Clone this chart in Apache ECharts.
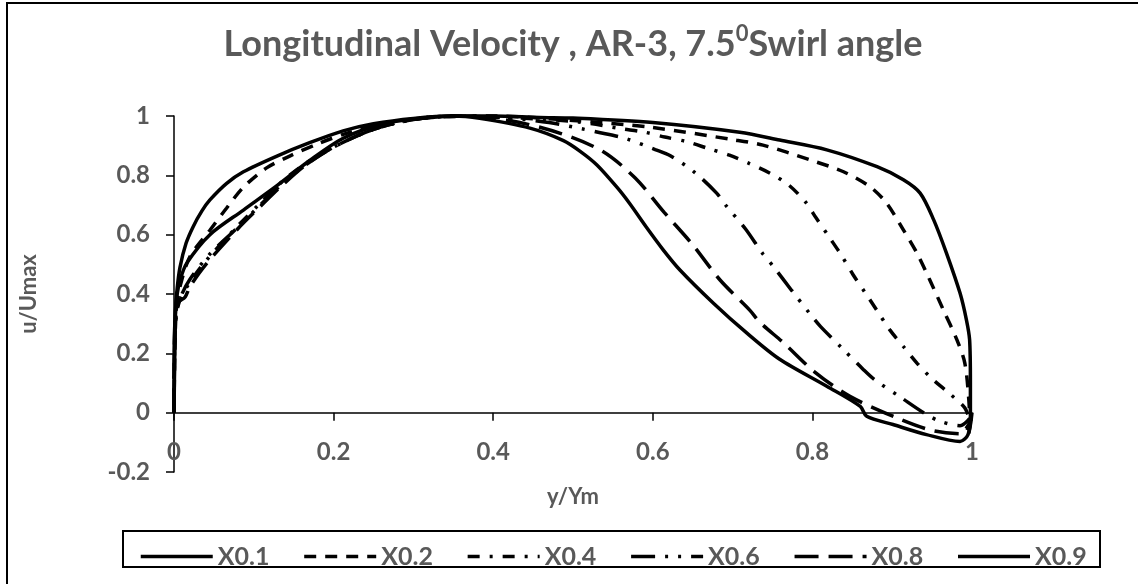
<!DOCTYPE html>
<html>
<head>
<meta charset="utf-8">
<script src="https://cdn.jsdelivr.net/npm/echarts@6/dist/echarts.min.js"></script>
<style>
  html, body { margin: 0; padding: 0; background: #fff; }
  #chart { width: 1138px; height: 584px; }
</style>
</head>
<body>
<div id="chart"></div>
<script>
// series names as in the legend
const seriesNames = ['X0.1', 'X0.2', 'X0.4', 'X0.6', 'X0.8', 'X0.9'];

// [y/Ym, u/Umax]
const x01 = [[0,0],[0.001,0.2],[0.002,0.35],[0.004,0.42],[0.0075,0.49],[0.015,0.57],[0.024,0.627],[0.035,0.68],[0.045,0.717],[0.066,0.773],[0.087,0.812],[0.129,0.865],[0.17,0.91],[0.212,0.95],[0.25,0.974],[0.3,0.992],[0.35,1.0],[0.4,1.0],[0.458,0.995],[0.5,0.993],[0.6,0.978],[0.709,0.945],[0.759,0.919],[0.818,0.886],[0.881,0.829],[0.914,0.785],[0.935,0.74],[0.952,0.65],[0.968,0.538],[0.985,0.403],[0.993,0.313],[0.997,0.246],[0.998,0.1],[0.998,-0.03],[0.996,-0.07]];
const x02 = [[0,0],[0.001,0.2],[0.003,0.35],[0.008,0.43],[0.02,0.526],[0.045,0.615],[0.066,0.69],[0.087,0.76],[0.116,0.825],[0.145,0.865],[0.179,0.905],[0.22,0.945],[0.27,0.978],[0.33,0.996],[0.4,1.0],[0.5,0.985],[0.597,0.962],[0.701,0.92],[0.738,0.902],[0.797,0.852],[0.839,0.812],[0.872,0.762],[0.893,0.706],[0.914,0.616],[0.931,0.538],[0.947,0.448],[0.964,0.347],[0.981,0.246],[0.991,0.167],[0.996,0.044],[0.997,-0.03],[0.992,-0.055]];
const x04 = [[0,0],[0.001,0.25],[0.003,0.33],[0.0075,0.38],[0.02,0.44],[0.041,0.515],[0.079,0.627],[0.108,0.706],[0.133,0.773],[0.162,0.835],[0.2,0.895],[0.25,0.955],[0.3,0.988],[0.35,1.0],[0.42,0.995],[0.507,0.98],[0.561,0.957],[0.589,0.946],[0.615,0.929],[0.642,0.914],[0.67,0.89],[0.696,0.868],[0.72,0.841],[0.747,0.807],[0.77,0.768],[0.791,0.711],[0.805,0.655],[0.822,0.588],[0.836,0.532],[0.851,0.465],[0.866,0.405],[0.881,0.344],[0.897,0.279],[0.914,0.223],[0.931,0.167],[0.95,0.114],[0.972,0.064],[0.991,0.016],[0.997,-0.025]];
const x06 = [[0,0],[0.001,0.28],[0.004,0.35],[0.01,0.4],[0.02,0.45],[0.045,0.535],[0.08,0.625],[0.11,0.705],[0.135,0.77],[0.165,0.835],[0.2,0.895],[0.25,0.955],[0.3,0.988],[0.35,1.0],[0.42,0.993],[0.47,0.978],[0.511,0.957],[0.53,0.946],[0.566,0.924],[0.603,0.887],[0.622,0.866],[0.652,0.811],[0.68,0.74],[0.692,0.697],[0.716,0.62],[0.738,0.535],[0.751,0.493],[0.774,0.412],[0.797,0.333],[0.81,0.291],[0.837,0.218],[0.864,0.145],[0.878,0.111],[0.91,0.053],[0.941,-0.003],[0.96,-0.029],[0.985,-0.044],[0.997,-0.02]];
const x08 = [[0,0],[0.001,0.3],[0.005,0.37],[0.014,0.39],[0.02,0.425],[0.04,0.5],[0.08,0.62],[0.11,0.7],[0.135,0.765],[0.165,0.835],[0.2,0.895],[0.25,0.955],[0.3,0.988],[0.35,1.0],[0.42,0.985],[0.486,0.94],[0.537,0.881],[0.578,0.791],[0.614,0.676],[0.65,0.566],[0.684,0.448],[0.722,0.344],[0.734,0.305],[0.764,0.235],[0.803,0.137],[0.847,0.055],[0.908,-0.02],[0.95,-0.06],[0.989,-0.071],[0.997,-0.04]];
const x09 = [[0,0],[0.001,0.3],[0.004,0.4],[0.008,0.45],[0.016,0.504],[0.045,0.6],[0.087,0.683],[0.129,0.765],[0.17,0.85],[0.212,0.925],[0.26,0.972],[0.3,0.99],[0.35,1.0],[0.383,0.992],[0.446,0.959],[0.488,0.917],[0.509,0.881],[0.53,0.835],[0.555,0.76],[0.571,0.705],[0.592,0.625],[0.613,0.549],[0.634,0.481],[0.676,0.369],[0.718,0.268],[0.759,0.18],[0.818,0.089],[0.86,0.021],[0.868,-0.012],[0.901,-0.04],[0.943,-0.074],[0.985,-0.097],[0.995,-0.074],[1.0,0]];

const seriesData = [x01, x02, x04, x06, x08, x09];
// line dash per series (solid, dash, dash-dot, long-dash-dot-dot, long-dash, solid)
const dashes = ['solid', [12, 9], [12, 10, 3, 10], [24, 10, 3, 10, 3, 10], [24, 10], 'solid'];

const grey = '#595959';
const font = 'Lato, "Open Sans", sans-serif';

const chart = echarts.init(document.getElementById('chart'), null, { renderer: 'canvas' });

chart.setOption({
  animation: false,
  backgroundColor: '#fff',
  title: {
    text: '{a|Longitudinal Velocity , AR-3, 7.5}{s|0}{a|Swirl angle}',
    left: 568,
    top: 18,
    textAlign: 'center',
    textStyle: {
      rich: {
        a: { fontFamily: font, fontWeight: 'bold', fontSize: 36, color: grey, lineHeight: 42 },
        s: { fontFamily: font, fontWeight: 'bold', fontSize: 22, color: grey, lineHeight: 42, verticalAlign: 'top' }
      }
    }
  },
  legend: {
    data: seriesNames,
    left: 134,
    top: 539,
    itemWidth: 72,
    itemHeight: 14,
    itemGap: 33,
    itemStyle: { opacity: 0 },
    lineStyle: { width: 3.5 },
    textStyle: { fontFamily: font, fontWeight: 'bold', fontSize: 25, color: grey }
  },
  grid: { left: 174, right: 166, top: 116, bottom: 112, containLabel: false },
  xAxis: {
    type: 'value',
    min: 0,
    max: 1,
    interval: 0.2,
    name: 'y/Ym',
    nameLocation: 'middle',
    nameGap: 14,
    nameTextStyle: { fontFamily: font, fontWeight: 'bold', fontSize: 22, color: grey },
    splitLine: { show: false },
    axisLine: { onZero: true, lineStyle: { color: '#000', width: 1.5 } },
    axisTick: { show: true, length: 8, inside: false, lineStyle: { color: '#000', width: 1.5 } },
    axisLabel: {
      margin: -32,
      fontFamily: font, fontWeight: 'bold', fontSize: 24, color: grey,
      formatter: v => String(Math.round(v * 10) / 10)
    }
  },
  yAxis: {
    type: 'value',
    min: -0.2,
    max: 1,
    interval: 0.2,
    name: 'u/Umax',
    nameLocation: 'middle',
    nameGap: 134,
    nameTextStyle: { fontFamily: font, fontWeight: 'bold', fontSize: 22, color: grey },
    splitLine: { show: false },
    axisLine: { show: true, onZero: false, lineStyle: { color: '#000', width: 1.5 } },
    axisTick: { show: true, length: 8, lineStyle: { color: '#000', width: 1.5 } },
    axisLabel: {
      margin: 24,
      fontFamily: font, fontWeight: 'bold', fontSize: 24, color: grey,
      formatter: v => String(Math.round(v * 10) / 10)
    }
  },
  graphic: [
    // outer chart border (only top and left edges fall inside the picture)
    { type: 'rect', shape: { x: 7, y: 3, width: 1400, height: 900 }, style: { fill: null, stroke: '#000', lineWidth: 2 }, silent: true },
    // legend frame
    { type: 'rect', shape: { x: 123, y: 531, width: 977, height: 36 }, style: { fill: null, stroke: '#000', lineWidth: 2 }, silent: true, z: 0 }
  ],
  series: seriesNames.map((name, i) => ({
    name,
    type: 'line',
    data: seriesData[i],
    showSymbol: false,
    symbol: 'none',
    smooth: 0.3,
    clip: false,
    lineStyle: { color: '#000', width: 3.5, type: dashes[i] },
    itemStyle: { color: '#000' },
    z: 3
  }))
});
</script>
</body>
</html>
